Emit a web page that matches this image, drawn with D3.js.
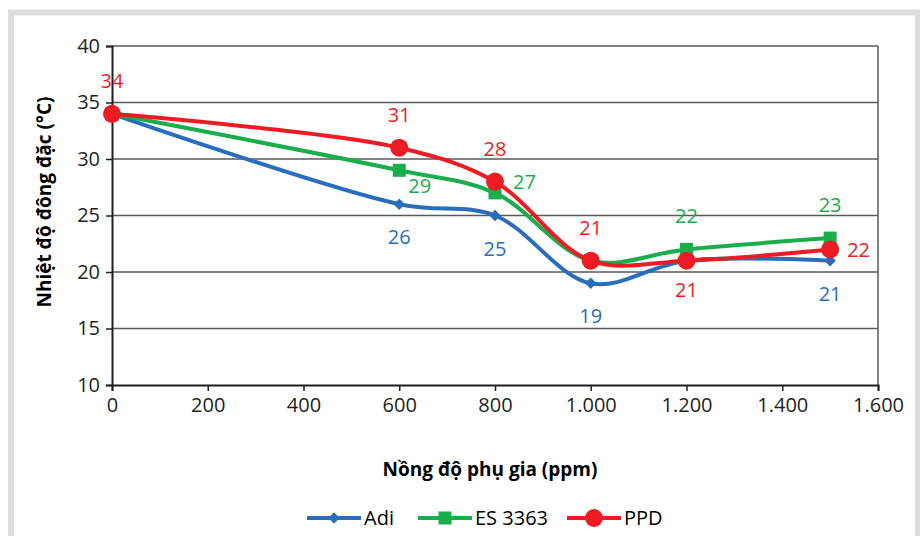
<!DOCTYPE html>
<html>
<head>
<meta charset="utf-8">
<script src="https://cdn.jsdelivr.net/npm/d3@7"></script>
<style>
  body { margin: 0; background: #fff; }
  svg text { font-family: "Open Sans", "Noto Sans", sans-serif; }
</style>
</head>
<body>
<div id="chart"></div>
<script>
// DATA
// ---------------------------------------------------------------
const xValues = [0, 600, 800, 1000, 1200, 1500];
const adi = [34, 26, 25, 19, 21, 21];
const es3363 = [34, 29, 27, 21, 22, 23];
const ppd = [34, 31, 28, 21, 21, 22];
const seriesNames = ["Adi", "ES 3363", "PPD"];
const xTicks = [0, 200, 400, 600, 800, 1000, 1200, 1400, 1600];
const yTicks = [10, 15, 20, 25, 30, 35, 40];

// which points get a value label, and where (dx, dy, anchor)
const adiLabels = [null, [0, 40, "middle"], [0, 40, "middle"], [0, 40, "middle"], null, [0, 40, "middle"]];
const esLabels = [null, [9, 23, "start"], [18, -4, "start"], null, [0, -26, "middle"], [0, -26, "middle"]];
const ppdLabels = [[0, -26, "middle"], [0, -26, "middle"], [0, -26, "middle"], [0, -26, "middle"], [0, 36, "middle"], [17, 8, "start"]];

// SETUP
// ---------------------------------------------------------------
const width = 920, height = 536;
const colors = ["#2a6ebb", "#19ad4b", "#ed1c24"];

const x = d3.scaleLinear([0, 1600], [112, 878]);
const y = d3.scaleLinear([10, 40], [385, 46]);

const svg = d3.select("#chart").append("svg")
  .attr("width", width)
  .attr("height", height);

// gray frame
svg.append("rect").attr("x", 0).attr("y", 0).attr("width", width).attr("height", height).attr("fill", "#fff");
svg.append("rect")
  .attr("x", 11).attr("y", 12.5)
  .attr("width", 907).attr("height", 540)
  .attr("fill", "none")
  .attr("stroke", "#dcddde")
  .attr("stroke-width", 6);

// GRID + AXES
// ---------------------------------------------------------------
svg.append("g")
  .selectAll("line")
  .data(yTicks.filter(d => d > 10))
  .enter().append("line")
  .attr("x1", x(0)).attr("x2", x(1600))
  .attr("y1", d => y(d)).attr("y2", d => y(d))
  .attr("stroke", "#58595b")
  .attr("stroke-width", 1.5);

svg.append("line")
  .attr("x1", x(1600)).attr("x2", x(1600))
  .attr("y1", y(40)).attr("y2", y(10))
  .attr("stroke", "#58595b")
  .attr("stroke-width", 1.5);

const yAxis = svg.append("g")
  .attr("transform", `translate(${x(0)},0)`)
  .call(d3.axisLeft(y).tickValues(yTicks).tickSize(6).tickPadding(6));

const xAxis = svg.append("g")
  .attr("transform", `translate(0,${y(10)})`)
  .call(d3.axisBottom(x).tickValues(xTicks).tickSize(6).tickPadding(7)
    .tickFormat(d => d3.format(",")(d).replace(/,/g, ".")));

[yAxis, xAxis].forEach(a => {
  a.select(".domain").attr("stroke", "#231f20").attr("stroke-width", 2);
  a.selectAll(".tick line").attr("stroke", "#231f20").attr("stroke-width", 1.5);
  a.selectAll(".tick text").attr("fill", "#231f20").style("font-size", "20px");
});

// AXIS TITLES
// ---------------------------------------------------------------
svg.append("text")
  .attr("text-anchor", "middle")
  .attr("x", 490).attr("y", 476)
  .style("font-size", "19px").style("font-weight", "bold")
  .attr("fill", "#000")
  .text("Nồng độ phụ gia (ppm)");

svg.append("text")
  .attr("text-anchor", "middle")
  .attr("transform", "translate(51,202) rotate(-90)")
  .style("font-size", "19px").style("font-weight", "bold")
  .attr("fill", "#000")
  .text("Nhiệt độ đông đặc (°C)");

// SERIES
// ---------------------------------------------------------------
const allSeries = [adi, es3363, ppd];
const allLabels = [adiLabels, esLabels, ppdLabels];
const line = d3.line()
  .x((d, i) => x(xValues[i]))
  .y(d => y(d))
  .curve(d3.curveCatmullRom.alpha(0.5));

function marker(g, k, cx, cy) {
  if (k === 0) {
    g.append("path").attr("d", d3.symbol(d3.symbolDiamond2, 85)()).attr("transform", `translate(${cx},${cy})`).attr("fill", colors[0]);
  } else if (k === 1) {
    g.append("rect").attr("x", cx - 6.5).attr("y", cy - 6.5).attr("width", 13).attr("height", 13).attr("fill", colors[1]);
  } else {
    g.append("circle").attr("cx", cx).attr("cy", cy).attr("r", 9).attr("fill", colors[2]);
  }
}

allSeries.forEach((s, k) => {
  svg.append("path")
    .datum(s)
    .attr("d", line)
    .attr("fill", "none")
    .attr("stroke", colors[k])
    .attr("stroke-width", 4);
});

allSeries.forEach((s, k) => {
  const g = svg.append("g");
  s.forEach((v, i) => marker(g, k, x(xValues[i]), y(v)));
});

allSeries.forEach((s, k) => {
  s.forEach((v, i) => {
    const lab = allLabels[k][i];
    if (!lab) return;
    svg.append("text")
      .attr("x", x(xValues[i]) + lab[0])
      .attr("y", y(v) + lab[1])
      .attr("text-anchor", lab[2])
      .attr("fill", colors[k])
      .style("font-size", "20px")
      .text(v);
  });
});

// LEGEND
// ---------------------------------------------------------------
const legendX = [307, 418, 567];
seriesNames.forEach((name, k) => {
  const g = svg.append("g");
  g.append("line")
    .attr("x1", legendX[k]).attr("x2", legendX[k] + 54)
    .attr("y1", 518).attr("y2", 518)
    .attr("stroke", colors[k]).attr("stroke-width", 4);
  marker(g, k, legendX[k] + 27, 518);
  g.append("text")
    .attr("x", legendX[k] + 57).attr("y", 525)
    .attr("fill", "#000")
    .style("font-size", "20px")
    .text(name);
});
</script>
</body>
</html>
